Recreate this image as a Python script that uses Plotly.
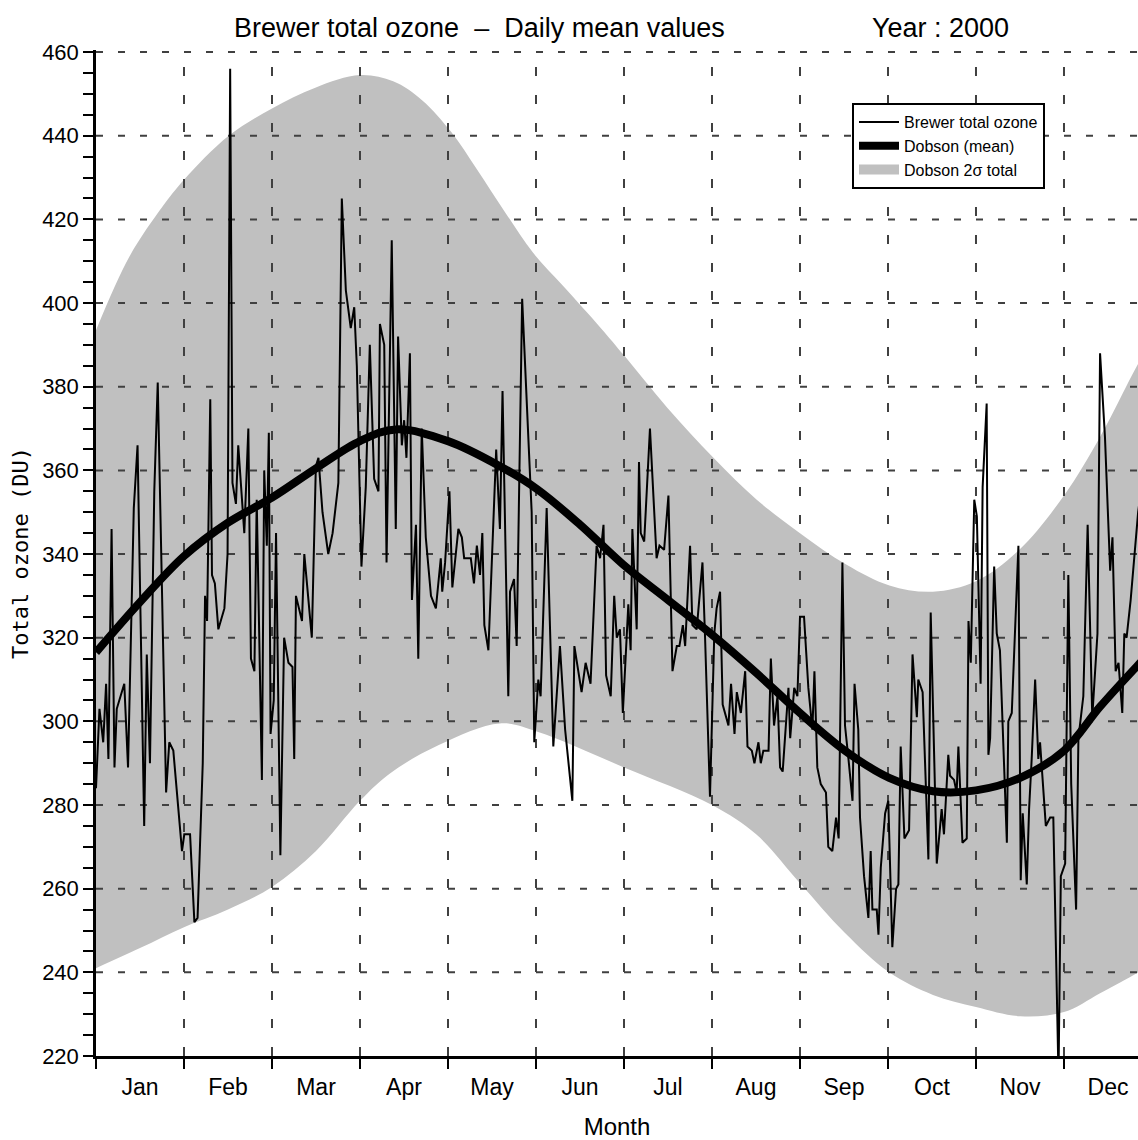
import plotly.graph_objects as go

# ---------------- data ----------------
months = ["Jan", "Feb", "Mar", "Apr", "May", "Jun",
          "Jul", "Aug", "Sep", "Oct", "Nov", "Dec"]
MONTH_LEN = 30.5          # the chart uses equal-width months (day units)
X_MAX = 361.15            # right edge of the visible plot (picture is cut there)

brewer_day = [0.0, 1.2, 2.5, 3.5, 4.3, 5.4, 6.4, 7.2, 9.8, 11.1, 13.1, 14.4, 16.7, 17.6,
              18.7, 20.2, 21.4, 24.3, 25.4, 26.8, 29.8, 30.6, 32.6, 34.1, 35.2, 37.0,
              37.8, 38.5, 39.6, 40.2, 41.2, 42.4, 44.5, 45.6, 46.5, 47.3, 48.5, 49.3,
              51.4, 52.8, 53.7, 54.9, 55.7, 57.5, 58.3, 59.2, 59.9, 60.5, 61.6, 62.4,
              63.9, 65.2, 66.7, 68.1, 68.7, 69.3, 71.4, 72.2, 74.8, 76.2, 77.1, 78.5,
              80.5, 82.0, 84.0, 85.2, 86.6, 88.3, 89.5, 90.4, 92.0, 93.5, 94.9, 96.4,
              97.9, 98.4, 99.9, 100.7, 102.5, 103.9, 104.7, 106.0, 106.8, 107.6, 108.8,
              109.5, 110.9, 111.7, 112.9, 114.3, 116.1, 117.8, 119.5, 120.0, 121.0,
              122.5, 123.5, 125.6, 126.8, 127.6, 129.9, 131.0, 132.0, 133.1, 133.9,
              134.6, 136.0, 138.7, 140.0, 140.9, 142.9, 143.5, 144.9, 145.8, 147.7,
              149.9, 151.0, 151.9, 153.3, 154.1, 156.2, 158.5, 160.8, 162.6, 165.1,
              165.8, 168.3, 169.7, 171.4, 173.5, 174.7, 175.9, 176.8, 178.4, 179.6,
              180.5, 181.6, 182.6, 184.5, 185.3, 185.9, 187.4, 188.2, 188.8, 190.0,
              192.0, 194.3, 195.3, 196.9, 198.4, 199.8, 201.3, 202.2, 203.4, 204.2,
              205.9, 206.7, 208.2, 210.2, 211.1, 212.8, 214.3, 215.1, 216.3, 217.2,
              219.2, 220.1, 221.3, 222.1, 223.5, 225.0, 225.8, 227.3, 228.2, 229.6,
              230.4, 231.3, 233.1, 233.9, 235.0, 236.2, 237.1, 238.0, 240.0, 240.6,
              242.0, 243.1, 244.0, 245.4, 246.9, 248.3, 249.0, 250.0, 251.2, 253.0,
              253.8, 255.2, 256.5, 257.4, 258.7, 259.6, 260.8, 262.2, 262.9, 264.2,
              264.8, 266.2, 267.7, 268.5, 269.1, 270.6, 271.2, 272.0, 273.5, 274.6,
              276.0, 277.3, 278.1, 278.9, 280.2, 281.8, 283.0, 284.5, 285.0, 286.5,
              288.5, 289.3, 291.4, 293.1, 293.9, 295.4, 296.0, 297.4, 298.3, 298.9,
              300.3, 301.8, 302.4, 303.2, 304.4, 305.3, 306.6, 307.3, 308.7, 309.3,
              309.9, 311.3, 312.2, 313.3, 315.7, 316.2, 317.4, 319.7, 320.5, 321.2,
              322.6, 323.4, 324.3, 325.5, 326.6, 327.2, 329.2, 330.7, 331.8, 333.6,
              334.4, 335.9, 337.0, 338.0, 339.7, 340.5, 342.2, 343.7, 345.3, 347.1,
              348.0, 349.7, 351.5, 352.3, 353.4, 354.4, 355.7, 356.4, 357.2, 358.6,
              361.2, 362.5]
brewer_ozone = [284, 303, 295, 309, 291, 346, 289, 303, 309, 289, 351, 366, 275, 316,
                290, 355, 381, 283, 295, 293, 269, 273, 273, 252, 253, 290,
                330, 324, 377, 335, 333, 322, 327, 340, 456, 357, 352, 366,
                345, 370, 315, 312, 353, 286, 360, 342, 369, 297, 305, 345,
                268, 320, 314, 313, 291, 330, 324, 340, 320, 361, 363, 350,
                340, 345, 357, 425, 403, 394, 399, 385, 337, 356, 390, 358,
                355, 395, 390, 338, 415, 346, 392, 366, 372, 363, 388,
                329, 347, 315, 370, 344, 330, 327, 339, 331, 338,
                355, 332, 346, 344, 339, 339, 333, 342, 335, 345,
                323, 317, 365, 346, 379, 306, 331, 334, 318, 401,
                365, 350, 295, 310, 306, 351, 294, 318, 298, 281,
                318, 307, 314, 309, 342, 339, 347, 311, 306, 330,
                320, 322, 302, 328, 317, 346, 322, 362, 345, 343,
                370, 339, 342, 341, 354, 312, 318, 318, 323, 318,
                342, 323, 322, 338, 320, 282, 321, 327, 331, 304,
                299, 309, 297, 307, 302, 312, 294, 293, 290, 295,
                290, 293, 293, 315, 299, 306, 289, 288, 308, 296,
                308, 306, 325, 325, 308, 298, 312, 289, 285, 283,
                270, 269, 277, 272, 338, 299, 291, 281, 309, 298,
                277, 263, 253, 269, 255, 255, 249, 265, 278, 281,
                246, 260, 261, 294, 272, 274, 316, 301, 310, 307,
                267, 326, 266, 279, 273, 292, 287, 286, 283, 294,
                271, 272, 324, 314, 353, 349, 309, 356, 376, 292,
                296, 337, 321, 317, 271, 300, 302, 342, 262, 278,
                261, 279, 291, 310, 291, 295, 275, 277, 277, 215,
                263, 266, 335, 285, 255, 296, 306, 347, 301, 321,
                388, 368, 336, 344, 312, 314, 302, 321, 320, 329,
                350, 357]

dobson_day = [0, 15.25, 30.5, 45.75, 61, 76.25, 91.5, 104, 122, 140, 152.9,
              167.8, 182.7, 198.3, 213.9, 229, 244, 259.6, 274.9, 290.1, 305,
              320.3, 335.5, 348, 361.2, 366]
dobson_mean = [316.5, 328.5, 339.5, 347.5, 353.5, 360.5, 367, 369.8, 367, 361, 355.5,
               347, 337.5, 329, 320.5, 311.5, 302, 293, 286.5, 283.3, 283.5,
               286.5, 293, 303.5, 313.5, 317]

upper_day = [0, 11.5, 23, 30.5, 46, 61, 76, 91.5, 103, 113, 123, 132, 142, 151.5,
             162, 175, 183, 198, 214, 229, 244, 260, 275, 290, 305, 320, 335.5,
             348, 361.2, 366]
band_upper = [393.5, 411, 423, 429.5, 440, 446.5, 451.5, 454.5, 453, 448.5, 441, 432,
              421.5, 412, 404, 394, 387.5, 375, 363, 353, 345, 337.5, 332.5, 331,
              333.5, 341, 354, 368, 385.5, 391]

lower_day = [0, 15.25, 30.5, 45.75, 61, 76.25, 91.5, 102, 119, 140, 153, 183,
             213.5, 228.8, 244, 259.6, 274.9, 290.1, 305, 320.3, 335.5, 348,
             361.2, 366]
band_lower = [241, 245.8, 250.8, 255, 260.4, 269, 281, 287.6, 294.4, 299.5, 297.5,
              289, 280, 273, 261.3, 249.4, 240, 234.6, 231.7, 229.5, 230.5, 235,
              240, 242]

y_ticks = list(range(220, 461, 20))

# ---------------- styling ----------------
FONT = "Liberation Sans Narrow, Liberation Sans, Arial, sans-serif"
GRID = "#404040"
BAND = "#c0c0c0"

fig = go.Figure()

# 2-sigma band (lower edge, then filled upper edge)
fig.add_trace(go.Scatter(x=lower_day, y=band_lower, mode="lines",
                         line=dict(width=0, shape="spline", color=BAND),
                         showlegend=False, hoverinfo="skip"))
fig.add_trace(go.Scatter(x=upper_day, y=band_upper, mode="lines", fill="tonexty",
                         fillcolor=BAND, line=dict(width=0, shape="spline", color=BAND),
                         showlegend=False, hoverinfo="skip"))

# dashed grid drawn above the band (as in the reference)
vx, vy = [], []
for k in range(1, len(months)):
    vx += [k * MONTH_LEN, k * MONTH_LEN, None]
    vy += [y_ticks[0], y_ticks[-1], None]
fig.add_trace(go.Scatter(x=vx, y=vy, mode="lines",
                         line=dict(color=GRID, width=2, dash="9px,19px"),
                         showlegend=False, hoverinfo="skip"))
hx, hy = [], []
for v in y_ticks[1:]:
    hx += [0, len(months) * MONTH_LEN, None]
    hy += [v, v, None]
fig.add_trace(go.Scatter(x=hx, y=hy, mode="lines",
                         line=dict(color=GRID, width=2, dash="7px,15px"),
                         showlegend=False, hoverinfo="skip"))

# data lines
fig.add_trace(go.Scatter(x=brewer_day, y=brewer_ozone, mode="lines",
                         line=dict(color="black", width=2),
                         name="Brewer total ozone"))
fig.add_trace(go.Scatter(x=dobson_day, y=dobson_mean, mode="lines",
                         line=dict(color="black", width=8, shape="spline"),
                         name="Dobson (mean)"))
fig.add_trace(go.Scatter(x=[None], y=[None], mode="lines",
                         line=dict(color=BAND, width=14),
                         name="Dobson 2\u03c3 total"))

month_centres = [(k + 0.5) * MONTH_LEN for k in range(len(months))]

PLOT_TOP, PLOT_BOTTOM = 50, 1056
PH = PLOT_BOTTOM - PLOT_TOP


def py(px):
    return (PLOT_BOTTOM - px) / PH


def pxx(px):
    return (px - 96) / 1042


fig.update_layout(
    width=1138, height=1140,
    margin=dict(l=96, r=0, t=PLOT_TOP, b=1140 - PLOT_BOTTOM),
    paper_bgcolor="white", plot_bgcolor="white",
    font=dict(family=FONT, color="black"),
    showlegend=True,
    legend=dict(x=pxx(852), y=py(103), xanchor="left", yanchor="top",
                traceorder="normal",
                bgcolor="white", bordercolor="black", borderwidth=2,
                font=dict(family=FONT, size=16, color="black"),
                tracegroupgap=0, itemwidth=40, entrywidth=247),
    xaxis=dict(range=[0, X_MAX], showgrid=False, zeroline=False,
               showline=True, linecolor="black", linewidth=3,
               tickmode="array", tickvals=month_centres, ticktext=months,
               ticks="outside", ticklen=8, tickcolor="rgba(0,0,0,0)",
               tickfont=dict(family=FONT, size=23),
               minor=dict(tickmode="linear", tick0=0, dtick=MONTH_LEN,
                          ticks="outside", ticklen=10, tickwidth=2,
                          tickcolor="black", showgrid=False),
               title=dict(text="Month", font=dict(family=FONT, size=24),
                          standoff=21)),
    yaxis=dict(range=[220, 460.5], showgrid=False, zeroline=False,
               showline=True, linecolor="black", linewidth=2.5,
               tickmode="array", tickvals=y_ticks,
               ticks="outside", ticklen=10, tickwidth=2, tickcolor="black",
               tickfont=dict(family=FONT, size=22),
               minor=dict(tickmode="linear", tick0=220, dtick=5,
                          ticks="outside", ticklen=10, tickwidth=2,
                          tickcolor="black", showgrid=False),
               title=dict(text="Total ozone (DU)",
                          font=dict(family="DejaVu Sans Mono", size=22),
                          standoff=8)),
    annotations=[
        dict(text="Brewer total ozone  \u2013  Daily mean values", x=pxx(479),
             y=py(28), xref="paper", yref="paper",
             xanchor="center", yanchor="middle", showarrow=False,
             font=dict(family=FONT, size=27, color="black")),
        dict(text="Year : 2000", x=pxx(940),
             y=py(28), xref="paper", yref="paper",
             xanchor="center", yanchor="middle", showarrow=False,
             font=dict(family=FONT, size=27, color="black")),
    ],
)

fig.write_html("out.html")
